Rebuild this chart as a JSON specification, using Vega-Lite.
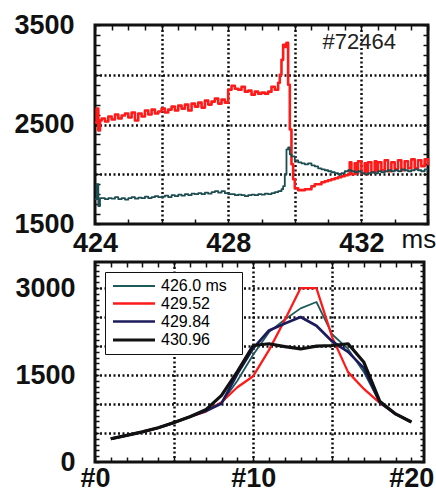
{
  "$schema": "https://vega.github.io/schema/vega-lite/v6.json",
  "background": "#ffffff",
  "padding": {"left": 12, "top": 9, "right": 2, "bottom": 2},
  "datasets": {
    "red": [
      {"t":424.0,"v":2520},{"t":424.05,"v":2660},{"t":424.1,"v":2440},{"t":424.15,"v":2540},{"t":424.2,"v":2560},{"t":424.3,"v":2530},{"t":424.4,"v":2580},{"t":424.5,"v":2550},{"t":424.6,"v":2600},{"t":424.7,"v":2560},{"t":424.8,"v":2590},{"t":424.9,"v":2610},
      {"t":425.0,"v":2570},{"t":425.1,"v":2620},{"t":425.2,"v":2540},{"t":425.3,"v":2610},{"t":425.4,"v":2580},{"t":425.5,"v":2640},{"t":425.6,"v":2600},{"t":425.7,"v":2650},{"t":425.8,"v":2610},{"t":425.9,"v":2630},
      {"t":426.0,"v":2660},{"t":426.1,"v":2620},{"t":426.2,"v":2650},{"t":426.3,"v":2680},{"t":426.4,"v":2640},{"t":426.5,"v":2690},{"t":426.6,"v":2660},{"t":426.7,"v":2700},{"t":426.8,"v":2640},{"t":426.9,"v":2710},
      {"t":427.0,"v":2680},{"t":427.1,"v":2720},{"t":427.2,"v":2670},{"t":427.3,"v":2740},{"t":427.4,"v":2700},{"t":427.5,"v":2730},{"t":427.6,"v":2760},{"t":427.7,"v":2710},{"t":427.8,"v":2750},{"t":427.9,"v":2720},
      {"t":428.0,"v":2850},{"t":428.1,"v":2890},{"t":428.2,"v":2860},{"t":428.3,"v":2850},{"t":428.4,"v":2880},{"t":428.5,"v":2830},{"t":428.6,"v":2840},{"t":428.7,"v":2800},{"t":428.8,"v":2830},{"t":428.9,"v":2810},
      {"t":429.0,"v":2820},{"t":429.1,"v":2810},{"t":429.2,"v":2830},{"t":429.3,"v":2880},{"t":429.4,"v":2850},{"t":429.5,"v":2920},{"t":429.55,"v":3000},{"t":429.6,"v":3150},{"t":429.65,"v":3300},{"t":429.7,"v":3280},{"t":429.75,"v":3320},{"t":429.8,"v":2900},{"t":429.85,"v":2450},{"t":429.9,"v":2100},{"t":429.95,"v":1950},
      {"t":430.0,"v":1860},{"t":430.1,"v":1840},{"t":430.2,"v":1840},{"t":430.3,"v":1850},{"t":430.4,"v":1850},{"t":430.5,"v":1880},{"t":430.6,"v":1900},{"t":430.7,"v":1900},{"t":430.8,"v":1920},{"t":430.9,"v":1930},
      {"t":431.0,"v":1940},{"t":431.1,"v":1950},{"t":431.2,"v":1960},{"t":431.3,"v":1970},{"t":431.4,"v":1980},{"t":431.5,"v":1990},{"t":431.6,"v":2000},{"t":431.65,"v":2120},{"t":431.7,"v":2000},{"t":431.8,"v":2110},{"t":431.85,"v":2010},{"t":431.9,"v":2130},
      {"t":432.0,"v":2010},{"t":432.1,"v":2110},{"t":432.15,"v":2000},{"t":432.2,"v":2120},{"t":432.3,"v":2020},{"t":432.4,"v":2130},{"t":432.45,"v":2030},{"t":432.5,"v":2120},{"t":432.6,"v":2040},{"t":432.7,"v":2140},{"t":432.8,"v":2030},{"t":432.9,"v":2120},
      {"t":433.0,"v":2050},{"t":433.1,"v":2140},{"t":433.2,"v":2040},{"t":433.3,"v":2130},{"t":433.4,"v":2060},{"t":433.5,"v":2150},{"t":433.6,"v":2060},{"t":433.7,"v":2140},{"t":433.8,"v":2080},{"t":433.9,"v":2150},{"t":434.0,"v":2090}
    ],
    "teal": [
      {"t":424.0,"v":1750},{"t":424.05,"v":1900},{"t":424.1,"v":1680},{"t":424.15,"v":1760},{"t":424.3,"v":1750},{"t":424.4,"v":1760},{"t":424.5,"v":1755},{"t":424.6,"v":1770},{"t":424.7,"v":1750},{"t":424.8,"v":1760},{"t":424.9,"v":1745},
      {"t":425.0,"v":1760},{"t":425.1,"v":1770},{"t":425.2,"v":1755},{"t":425.3,"v":1765},{"t":425.4,"v":1760},{"t":425.5,"v":1775},{"t":425.6,"v":1760},{"t":425.7,"v":1770},{"t":425.8,"v":1780},{"t":425.9,"v":1770},
      {"t":426.0,"v":1775},{"t":426.1,"v":1785},{"t":426.2,"v":1770},{"t":426.3,"v":1790},{"t":426.4,"v":1780},{"t":426.5,"v":1795},{"t":426.6,"v":1785},{"t":426.7,"v":1800},{"t":426.8,"v":1790},{"t":426.9,"v":1805},
      {"t":427.0,"v":1800},{"t":427.1,"v":1810},{"t":427.2,"v":1800},{"t":427.3,"v":1815},{"t":427.4,"v":1805},{"t":427.5,"v":1820},{"t":427.6,"v":1830},{"t":427.7,"v":1815},{"t":427.8,"v":1830},{"t":427.9,"v":1810},
      {"t":428.0,"v":1800},{"t":428.1,"v":1800},{"t":428.2,"v":1790},{"t":428.3,"v":1795},{"t":428.4,"v":1790},{"t":428.5,"v":1780},{"t":428.6,"v":1790},{"t":428.7,"v":1795},{"t":428.8,"v":1790},{"t":428.9,"v":1800},
      {"t":429.0,"v":1795},{"t":429.1,"v":1805},{"t":429.2,"v":1800},{"t":429.3,"v":1810},{"t":429.4,"v":1820},{"t":429.5,"v":1830},{"t":429.6,"v":1850},{"t":429.65,"v":1880},{"t":429.7,"v":2000},{"t":429.75,"v":2250},{"t":429.8,"v":2270},{"t":429.85,"v":2200},{"t":429.9,"v":2180},
      {"t":430.0,"v":2140},{"t":430.1,"v":2120},{"t":430.2,"v":2110},{"t":430.3,"v":2100},{"t":430.4,"v":2110},{"t":430.5,"v":2090},{"t":430.6,"v":2080},{"t":430.7,"v":2060},{"t":430.8,"v":2050},{"t":430.9,"v":2040},
      {"t":431.0,"v":2030},{"t":431.1,"v":2020},{"t":431.2,"v":2010},{"t":431.3,"v":2000},{"t":431.4,"v":2010},{"t":431.5,"v":2030},{"t":431.6,"v":2040},{"t":431.7,"v":2030},{"t":431.8,"v":2020},{"t":431.9,"v":2030},
      {"t":432.0,"v":2010},{"t":432.1,"v":2000},{"t":432.2,"v":2010},{"t":432.3,"v":2020},{"t":432.4,"v":2010},{"t":432.5,"v":2030},{"t":432.6,"v":2020},{"t":432.7,"v":2030},{"t":432.8,"v":2040},{"t":432.9,"v":2030},
      {"t":433.0,"v":2040},{"t":433.1,"v":2030},{"t":433.2,"v":2050},{"t":433.3,"v":2040},{"t":433.4,"v":2030},{"t":433.5,"v":2040},{"t":433.6,"v":2050},{"t":433.7,"v":2040},{"t":433.8,"v":2030},{"t":433.9,"v":2050},{"t":434.0,"v":2050}
    ],
    "prof": [
      {"ch":1,"v":400,"s":"426.0"},{"ch":2,"v":460,"s":"426.0"},{"ch":3,"v":520,"s":"426.0"},{"ch":4,"v":590,"s":"426.0"},{"ch":5,"v":680,"s":"426.0"},{"ch":6,"v":780,"s":"426.0"},{"ch":7,"v":880,"s":"426.0"},{"ch":8,"v":1020,"s":"426.0"},{"ch":9,"v":1400,"s":"426.0"},{"ch":10,"v":1850,"s":"426.0"},
      {"ch":11,"v":2240,"s":"426.0"},{"ch":12,"v":2460,"s":"426.0"},{"ch":13,"v":2650,"s":"426.0"},{"ch":14,"v":2760,"s":"426.0"},{"ch":15,"v":2200,"s":"426.0"},{"ch":16,"v":1950,"s":"426.0"},{"ch":17,"v":1550,"s":"426.0"},{"ch":18,"v":1030,"s":"426.0"},{"ch":19,"v":830,"s":"426.0"},{"ch":20,"v":690,"s":"426.0"},
      {"ch":1,"v":400,"s":"429.52"},{"ch":2,"v":460,"s":"429.52"},{"ch":3,"v":520,"s":"429.52"},{"ch":4,"v":590,"s":"429.52"},{"ch":5,"v":680,"s":"429.52"},{"ch":6,"v":780,"s":"429.52"},{"ch":7,"v":870,"s":"429.52"},{"ch":8,"v":1030,"s":"429.52"},{"ch":9,"v":1290,"s":"429.52"},{"ch":10,"v":1480,"s":"429.52"},
      {"ch":11,"v":1930,"s":"429.52"},{"ch":12,"v":2450,"s":"429.52"},{"ch":13,"v":3000,"s":"429.52"},{"ch":14,"v":3000,"s":"429.52"},{"ch":15,"v":2150,"s":"429.52"},{"ch":16,"v":1550,"s":"429.52"},{"ch":17,"v":1260,"s":"429.52"},{"ch":18,"v":1020,"s":"429.52"},{"ch":19,"v":830,"s":"429.52"},{"ch":20,"v":690,"s":"429.52"},
      {"ch":1,"v":400,"s":"429.84"},{"ch":2,"v":460,"s":"429.84"},{"ch":3,"v":520,"s":"429.84"},{"ch":4,"v":590,"s":"429.84"},{"ch":5,"v":680,"s":"429.84"},{"ch":6,"v":780,"s":"429.84"},{"ch":7,"v":880,"s":"429.84"},{"ch":8,"v":1010,"s":"429.84"},{"ch":9,"v":1520,"s":"429.84"},{"ch":10,"v":1960,"s":"429.84"},
      {"ch":11,"v":2270,"s":"429.84"},{"ch":12,"v":2390,"s":"429.84"},{"ch":13,"v":2500,"s":"429.84"},{"ch":14,"v":2350,"s":"429.84"},{"ch":15,"v":2080,"s":"429.84"},{"ch":16,"v":1900,"s":"429.84"},{"ch":17,"v":1620,"s":"429.84"},{"ch":18,"v":1030,"s":"429.84"},{"ch":19,"v":830,"s":"429.84"},{"ch":20,"v":690,"s":"429.84"},
      {"ch":1,"v":400,"s":"430.96"},{"ch":2,"v":460,"s":"430.96"},{"ch":3,"v":520,"s":"430.96"},{"ch":4,"v":590,"s":"430.96"},{"ch":5,"v":680,"s":"430.96"},{"ch":6,"v":780,"s":"430.96"},{"ch":7,"v":900,"s":"430.96"},{"ch":8,"v":1150,"s":"430.96"},{"ch":9,"v":1560,"s":"430.96"},{"ch":10,"v":2010,"s":"430.96"},
      {"ch":11,"v":2040,"s":"430.96"},{"ch":12,"v":1990,"s":"430.96"},{"ch":13,"v":1950,"s":"430.96"},{"ch":14,"v":2000,"s":"430.96"},{"ch":15,"v":2010,"s":"430.96"},{"ch":16,"v":2040,"s":"430.96"},{"ch":17,"v":1720,"s":"430.96"},{"ch":18,"v":1050,"s":"430.96"},{"ch":19,"v":830,"s":"430.96"},{"ch":20,"v":690,"s":"430.96"}
    ]
  },
  "spacing": -9,
  "resolve": {"scale": {"x": "independent", "y": "independent", "color": "independent", "strokeWidth": "independent"}},
  "vconcat": [
    {
      "width": 333,
      "height": 199,
      "layer": [
        {
          "data": {"name": "red"},
          "mark": {"type": "line", "interpolate": "step-after", "color": "#ff1a1a", "strokeWidth": 2.6},
          "encoding": {
            "x": {"field": "t", "type": "quantitative", "scale": {"domain": [424, 434], "nice": false, "zero": false},
              "axis": {"orient": "bottom", "values": [424,424.5,425,425.5,426,426.5,427,427.5,428,428.5,429,429.5,430,430.5,431,431.5,432,432.5,433,433.5,434],
                "format": "d",
                "labelExpr": "datum.value == 424 || datum.value == 428 || datum.value == 432 ? datum.label : ''",
                "labelOverlap": false, "labelFlush": false, "labelPadding": 11, "tickSize": -5,
                "grid": true, "gridOpacity": {"condition": {"test": "datum.value == 426 || datum.value == 428 || datum.value == 430 || datum.value == 432", "value": 1}, "value": 0},
                "title": "ms", "titleX": 306, "titleY": 23, "titleAlign": "left", "titleBaseline": "alphabetic", "titleFontSize": 26, "titleFontWeight": "normal", "titleColor": "#111111"}},
            "y": {"field": "v", "type": "quantitative", "scale": {"domain": [1500, 3500], "nice": false, "zero": false},
              "axis": {"orient": "left", "values": [1500,1600,1700,1800,1900,2000,2100,2200,2300,2400,2500,2600,2700,2800,2900,3000,3100,3200,3300,3400,3500],
                "labelExpr": "datum.value == 1500 || datum.value == 2500 || datum.value == 3500 ? datum.label : ''",
                "format": "d", "labelOverlap": false, "labelFlush": false, "labelPadding": 26, "tickSize": -5,
                "grid": true, "gridOpacity": {"condition": {"test": "datum.value == 2000 || datum.value == 2500 || datum.value == 3000", "value": 1}, "value": 0},
                "title": null}}
          }
        },
        {
          "data": {"name": "teal"},
          "mark": {"type": "line", "interpolate": "step-after", "color": "#1d4d50", "strokeWidth": 1.8},
          "encoding": {
            "x": {"field": "t", "type": "quantitative", "scale": {"domain": [424, 434], "nice": false, "zero": false},
              "axis": {"orient": "top", "values": [424,424.5,425,425.5,426,426.5,427,427.5,428,428.5,429,429.5,430,430.5,431,431.5,432,432.5,433,433.5,434],
                "labels": false, "grid": false, "tickSize": -5,
                "title": "#72464", "titleX": 227, "titleY": 23, "titleAlign": "left", "titleBaseline": "alphabetic", "titleFontSize": 22, "titleFontWeight": "normal", "titleColor": "#222222"}},
            "y": {"field": "v", "type": "quantitative", "scale": {"domain": [1500, 3500], "nice": false, "zero": false},
              "axis": {"orient": "right", "values": [1500,1600,1700,1800,1900,2000,2100,2200,2300,2400,2500,2600,2700,2800,2900,3000,3100,3200,3300,3400,3500],
                "labels": false, "grid": false, "tickSize": -5, "title": null}}
          }
        }
      ]
    },
    {
      "width": 329,
      "height": 200,
      "data": {"name": "prof"},
      "layer": [
        {
          "mark": {"type": "line", "opacity": 0},
          "encoding": {
            "x": {"field": "ch", "type": "quantitative", "scale": {"domain": [0, 20.8], "nice": false, "zero": false},
              "axis": {"orient": "top", "values": [0,1,2,3,4,5,6,7,8,9,10,11,12,13,14,15,16,17,18,19,20], "labels": false, "grid": false, "tickSize": -5, "title": null}},
            "y": {"field": "v", "type": "quantitative", "scale": {"domain": [0, 3450], "nice": false, "zero": false},
              "axis": {"orient": "right", "values": [0,100,200,300,400,500,600,700,800,900,1000,1100,1200,1300,1400,1500,1600,1700,1800,1900,2000,2100,2200,2300,2400,2500,2600,2700,2800,2900,3000,3100,3200,3300,3400], "labels": false, "grid": false, "tickSize": -4, "title": null}},
            "detail": {"field": "s", "type": "nominal"}
          }
        },
        {
          "mark": {"type": "line"},
          "encoding": {
            "x": {"field": "ch", "type": "quantitative", "scale": {"domain": [0, 20.8], "nice": false, "zero": false},
              "axis": {"orient": "bottom", "values": [0,1,2,3,4,5,6,7,8,9,10,11,12,13,14,15,16,17,18,19,20],
                "labelExpr": "datum.value == 0 || datum.value == 10 || datum.value == 20 ? '#' + datum.label : ''",
                "labelOverlap": false, "labelFlush": false, "labelPadding": 8, "tickSize": -5,
                "grid": true, "gridOpacity": {"condition": {"test": "datum.value == 5 || datum.value == 10 || datum.value == 15", "value": 1}, "value": 0},
                "title": null}},
            "y": {"field": "v", "type": "quantitative", "scale": {"domain": [0, 3450], "nice": false, "zero": false},
              "axis": {"orient": "left", "values": [0,100,200,300,400,500,600,700,800,900,1000,1100,1200,1300,1400,1500,1600,1700,1800,1900,2000,2100,2200,2300,2400,2500,2600,2700,2800,2900,3000,3100,3200,3300,3400],
                "labelExpr": "datum.value == 0 || datum.value == 1500 || datum.value == 3000 ? datum.label : ''",
                "format": "d", "labelOverlap": false, "labelFlush": false, "labelPadding": 24, "tickSize": -4,
                "grid": true, "gridOpacity": {"condition": {"test": "datum.value > 0 && datum.value % 500 == 0", "value": 1}, "value": 0},
                "title": null}},
            "color": {"field": "s", "type": "nominal",
              "scale": {"domain": ["426.0", "429.52", "429.84", "430.96"], "range": ["#1f5a5a", "#ff1a1a", "#1c1c5c", "#111111"]},
              "legend": {"orient": "top-left", "offset": 10, "title": null, "labelFont": "Liberation Sans", "labelFontSize": 16, "labelFontWeight": "normal",
                "labelExpr": "datum.label == '426.0' ? '426.0   ms' : datum.label",
                "symbolType": "M-3,0H3", "symbolSize": 196, "symbolOffset": 14, "rowPadding": 1, "padding": 6, "labelOffset": 18,
                "strokeColor": "#111111", "fillColor": "#ffffff",
                "encode": {
                  "labels": {"fill": {"condition": [{"test": "datum.value == '429.52'", "value": "#ff1a1a"}, {"test": "datum.value == '426.0'", "value": "#2f6878"}, {"test": "datum.value == '429.84'", "value": "#1c1c5c"}], "value": "#111111"}},
                  "symbols": {"strokeWidth": {"condition": [{"test": "datum.value == '429.52' || datum.value == '430.96'", "value": 3.2}], "value": 1.8}},
                  "legend": {"strokeWidth": {"value": 3}}
                }}},
            "strokeWidth": {"field": "s", "type": "nominal",
              "scale": {"domain": ["426.0", "429.52", "429.84", "430.96"], "range": [1.8, 3.2, 1.8, 3]}, "legend": null}
          }
        }
      ]
    }
  ],
  "config": {
    "view": {"stroke": "#111111", "strokeWidth": 3},
    "axis": {"labelFont": "Liberation Sans", "labelFontWeight": "bold", "labelFontSize": 27, "labelColor": "#111111",
      "tickColor": "#111111", "tickWidth": 1.5, "domain": false,
      "gridColor": "#111111", "gridDash": [2, 2.5], "gridWidth": 2.5, "titleFont": "Liberation Sans"},
    "line": {"strokeJoin": "round"}
  }
}
